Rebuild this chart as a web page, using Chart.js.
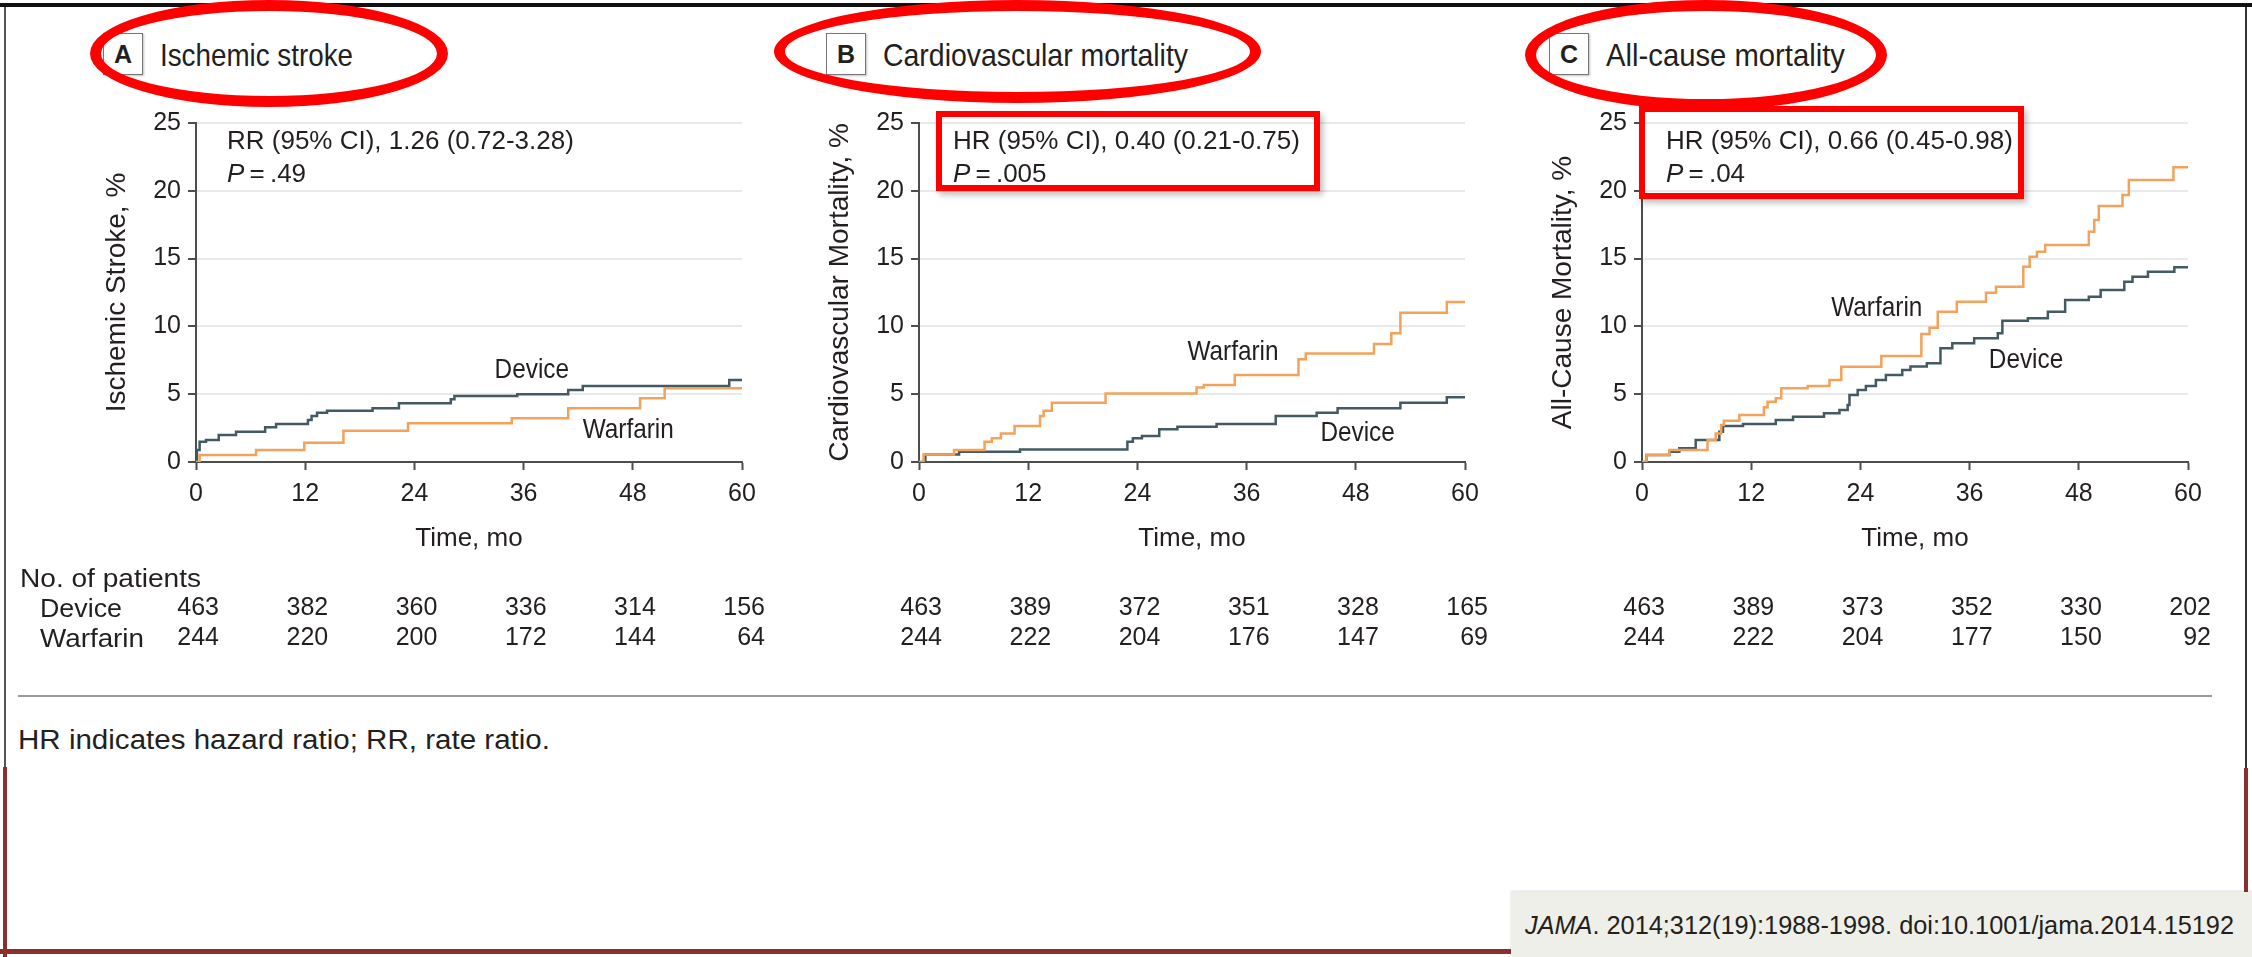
<!DOCTYPE html>
<html>
<head>
<meta charset="utf-8">
<script src="https://cdn.jsdelivr.net/npm/chart.js@4.4.1/dist/chart.umd.min.js"></script>
<style>
  body { margin: 0; background: #fff; }
  #page { position: relative; width: 2252px; height: 957px; overflow: hidden; background: #fff;
          font-family: 'Liberation Sans', Arial, sans-serif; color: #231f20; }
  .txt { position: absolute; white-space: nowrap; transform: translateY(-50%); transform-origin: left center; line-height: 1; }
  .letter { position: absolute; width: 40px; height: 42px; border: 1.5px solid #777; box-sizing: border-box;
            box-shadow: 1px 1px 2px rgba(0,0,0,0.25); text-align: center; line-height: 40px;
            font-weight: bold; font-size: 25px; }
  .ring { position: absolute; border: 11px solid #f00; border-radius: 50%; box-sizing: border-box; z-index: 5; }
  .redbox { position: absolute; border: 6px solid #f00; box-sizing: border-box; z-index: 5;
            box-shadow: 3px 4px 6px rgba(0,0,0,0.25); }
  .line { position: absolute; }
  canvas { position: absolute; }
</style>
</head>
<body>
<div id="page"></div>
<script>
// time axis (months)
const timeTicks = [0, 12, 24, 36, 48, 60];

// A - ischemic stroke, cumulative %
const strokeDeviceMonths = [0, 0.1, 0.4, 1.1, 2.5, 4.4, 7.6, 8.8, 12.3, 12.7, 13.3, 14.4, 19.4, 22.3, 28.0, 28.4, 35.3, 40.9, 42.5, 58.6, 60];
const strokeDevicePct    = [0, 0.88, 1.5, 1.62, 2.0, 2.24, 2.56, 2.8, 3.1, 3.39, 3.64, 3.78, 3.96, 4.33, 4.62, 4.87, 4.99, 5.31, 5.6, 6.05, 6.05];
const strokeWarfarinMonths = [0, 0.4, 6.6, 11.9, 16.2, 23.3, 34.7, 40.9, 48.8, 51.5, 60];
const strokeWarfarinPct    = [0, 0.52, 0.88, 1.42, 2.31, 2.85, 3.22, 3.96, 4.7, 5.43, 5.43];

// B - cardiovascular mortality
const cvDeviceMonths = [0, 0.7, 4.4, 11.1, 22.9, 23.5, 24.5, 26.4, 28.4, 32.7, 39.2, 43.7, 46.0, 52.9, 58.0, 60];
const cvDevicePct    = [0, 0.56, 0.76, 0.93, 1.5, 1.75, 1.91, 2.41, 2.6, 2.8, 3.39, 3.64, 3.96, 4.37, 4.77, 4.77];
const cvWarfarinMonths = [0, 0.5, 3.85, 7.2, 8.0, 9.0, 10.5, 13.3, 13.7, 14.6, 20.5, 30.5, 31.3, 34.7, 41.7, 42.5, 50.0, 51.9, 52.9, 58.0, 60];
const cvWarfarinPct    = [0, 0.56, 0.88, 1.5, 1.75, 2.1, 2.65, 3.39, 3.78, 4.37, 5.06, 5.5, 5.68, 6.42, 7.57, 8.0, 8.7, 9.49, 11.0, 11.8, 11.8];

// C - all-cause mortality
const allDeviceMonths = [0, 0.5, 3.0, 4.1, 5.9, 8.5, 8.9, 11.1, 14.7, 16.6, 20.0, 21.7, 22.6, 22.8, 23.7, 24.6, 25.7, 26.8, 28.6, 29.5, 31.3, 32.8, 34.1, 36.5, 39.1, 39.6, 42.4, 44.6, 46.5, 49.1, 50.4, 53.0, 53.9, 55.6, 58.5, 60];
const allDevicePct    = [0, 0.52, 0.76, 1.01, 1.62, 2.24, 2.65, 2.8, 3.1, 3.34, 3.59, 3.83, 4.2, 4.94, 5.31, 5.6, 6.05, 6.42, 6.78, 7.05, 7.28, 8.38, 8.75, 9.12, 9.49, 10.42, 10.6, 11.08, 11.95, 12.19, 12.68, 13.3, 13.67, 14.03, 14.36, 14.36];
const allWarfarinMonths = [0, 0.5, 3.0, 7.2, 8.1, 8.7, 9.0, 10.7, 13.4, 13.8, 14.7, 15.3, 18.2, 20.6, 21.9, 26.3, 30.7, 31.6, 32.5, 34.6, 37.8, 38.9, 41.9, 42.6, 43.4, 44.3, 49.1, 49.7, 50.2, 52.8, 53.5, 58.4, 60];
const allWarfarinPct    = [0, 0.52, 0.88, 1.62, 2.1, 2.73, 3.05, 3.47, 4.03, 4.45, 4.7, 5.43, 5.6, 6.05, 7.03, 7.82, 9.44, 9.9, 11.08, 11.82, 12.49, 12.93, 14.4, 15.14, 15.51, 16.0, 16.98, 17.85, 18.88, 19.69, 20.8, 21.73, 21.73];

// number of patients at risk
const strokeDeviceRisk = [463, 382, 360, 336, 314, 156];
const strokeWarfarinRisk = [244, 220, 200, 172, 144, 64];
const cvDeviceRisk = [463, 389, 372, 351, 328, 165];
const cvWarfarinRisk = [244, 222, 204, 176, 147, 69];
const allDeviceRisk = [463, 389, 373, 352, 330, 202];
const allWarfarinRisk = [244, 222, 204, 177, 150, 92];

const DEVICE_COLOR = '#435a63';
const WARFARIN_COLOR = '#f2a25a';
const INK = '#231f20';
const REGULAR = "'Liberation Sans', Arial, sans-serif";

const panels = [
    { letter: 'A', left: 196, title: 'Ischemic stroke', titleW: 193, yTitle: 'Ischemic Stroke, %',
      stat: 'RR (95% CI), 1.26 (0.72-3.28)', p: '.49', statX: 227,
      dev: [strokeDeviceMonths, strokeDevicePct], war: [strokeWarfarinMonths, strokeWarfarinPct],
      devRisk: strokeDeviceRisk, warRisk: strokeWarfarinRisk,
      labels: [{ text: 'Device', m: 36.9, v: 6.8 }, { text: 'Warfarin', m: 47.5, v: 2.36 }] },
    { letter: 'B', left: 919, title: 'Cardiovascular mortality', titleW: 305, yTitle: 'Cardiovascular Mortality, %',
      stat: 'HR (95% CI), 0.40 (0.21-0.75)', p: '.005', statX: 953,
      dev: [cvDeviceMonths, cvDevicePct], war: [cvWarfarinMonths, cvWarfarinPct],
      devRisk: cvDeviceRisk, warRisk: cvWarfarinRisk,
      labels: [{ text: 'Warfarin', m: 34.5, v: 8.1 }, { text: 'Device', m: 48.2, v: 2.1 }] },
    { letter: 'C', left: 1642, title: 'All-cause mortality', titleW: 239, yTitle: 'All-Cause Mortality, %',
      stat: 'HR (95% CI), 0.66 (0.45-0.98)', p: '.04', statX: 1666,
      dev: [allDeviceMonths, allDevicePct], war: [allWarfarinMonths, allWarfarinPct],
      devRisk: allDeviceRisk, warRisk: allWarfarinRisk,
      labels: [{ text: 'Warfarin', m: 25.8, v: 11.35 }, { text: 'Device', m: 42.2, v: 7.5 }] }
];

const page = document.getElementById('page');

function addDiv(cls, css, html) {
    const d = document.createElement('div');
    d.className = cls;
    Object.assign(d.style, css);
    if (html !== undefined) d.innerHTML = html;
    page.appendChild(d);
    return d;
}

function text(str, x, y, size, fitTo) {
    const d = addDiv('txt', { left: x + 'px', top: y + 'px', fontSize: size + 'px' }, str);
    if (fitTo) {
        // the source typeface is condensed: squeeze to the measured width
        const w = d.getBoundingClientRect().width;
        d.style.transform = 'translateY(-50%) scaleX(' + (fitTo / w) + ')';
    }
    return d;
}

// curve labels + numbers at risk, drawn on the chart canvas
const annotate = {
    id: 'annotate',
    afterDraw(chart, args, opts) {
        const { ctx, scales: { x, y } } = chart;
        ctx.save();
        ctx.fillStyle = INK;
        ctx.textBaseline = 'middle';
        ctx.textAlign = 'center';
        ctx.font = '28px ' + REGULAR;
        opts.labels.forEach(l => {
            ctx.save();
            ctx.translate(x.getPixelForValue(l.m), y.getPixelForValue(l.v));
            ctx.scale(0.87, 1);
            ctx.fillText(l.text, 0, 0);
            ctx.restore();
        });
        ctx.textAlign = 'right';
        ctx.font = '25px ' + REGULAR;
        opts.rows.forEach(row => {
            row.values.forEach((n, i) => ctx.fillText(String(n), x.getPixelForValue(timeTicks[i]) + 23, row.y));
        });
        ctx.restore();
    }
};

const CANVAS_TOP = 100;

panels.forEach(p => {
    const canvas = document.createElement('canvas');
    canvas.width = 706;
    canvas.height = 560;
    canvas.style.left = (p.left - 130) + 'px';
    canvas.style.top = CANVAS_TOP + 'px';
    page.appendChild(canvas);

    const toPoints = ([ms, vs]) => ms.map((m, i) => ({ x: m, y: vs[i] }));

    new Chart(canvas.getContext('2d'), {
        type: 'line',
        data: {
            datasets: [{
                label: 'Warfarin',
                data: toPoints(p.war),
                borderColor: WARFARIN_COLOR,
                borderWidth: 2.5,
                stepped: true,
                pointRadius: 0,
                fill: false
            }, {
                label: 'Device',
                data: toPoints(p.dev),
                borderColor: DEVICE_COLOR,
                borderWidth: 2.5,
                stepped: true,
                pointRadius: 0,
                fill: false
            }]
        },
        options: {
            responsive: false,
            animation: false,
            layout: { padding: { top: 23, right: 30, bottom: 106, left: 0 } },
            plugins: {
                legend: { display: false },
                tooltip: { enabled: false },
                annotate: {
                    labels: p.labels,
                    rows: [{ y: 508, values: p.devRisk }, { y: 538, values: p.warRisk }]
                }
            },
            scales: {
                x: {
                    type: 'linear',
                    min: 0,
                    max: 60,
                    afterBuildTicks: s => { s.ticks = timeTicks.map(v => ({ value: v })); },
                    afterFit: s => { s.height = 92; },
                    ticks: { font: { family: REGULAR, size: 25 }, color: INK, padding: 9, maxRotation: 0, autoSkip: false },
                    grid: { drawOnChartArea: false, drawTicks: true, tickLength: 8, tickColor: '#4d4d4d', tickWidth: 2 },
                    border: { color: '#4d4d4d', width: 2 },
                    title: { display: true, text: 'Time, mo', color: INK, font: { family: REGULAR, size: 26 }, padding: { top: 0, bottom: 0 } }
                },
                y: {
                    min: 0,
                    max: 25,
                    afterFit: s => { s.width = 130; },
                    ticks: { stepSize: 5, font: { family: REGULAR, size: 25 }, color: INK, padding: 7 },
                    grid: {
                        color: c => (c.tick && c.tick.value === 0) ? 'rgba(0,0,0,0)' : '#e9e9e9',
                        lineWidth: 2, tickLength: 8, tickColor: '#4d4d4d', tickWidth: 2
                    },
                    border: { color: '#4d4d4d', width: 2 },
                    title: { display: true, text: p.yTitle, color: INK, font: { family: REGULAR, size: 28 }, padding: { top: 34, bottom: 0 } }
                }
            }
        },
        plugins: [annotate]
    });

    // panel heading
    addDiv('letter', { left: (p.left - 93) + 'px', top: '33px' }, p.letter);
    text(p.title, p.left - 36, 55, 32, p.titleW);

    // statistics
    text(p.stat, p.statX, 140, 26);
    text('<i>P</i>&thinsp;=&thinsp;' + p.p, p.statX, 173, 26);
});

// highlight marks
addDiv('ring', { left: '90px', top: '0px', width: '358px', height: '107px' });
addDiv('ring', { left: '774px', top: '0px', width: '487px', height: '103px' });
addDiv('ring', { left: '1525px', top: '0px', width: '362px', height: '110px' });
addDiv('redbox', { left: '936px', top: '111px', width: '384px', height: '80px' });
addDiv('redbox', { left: '1639px', top: '106px', width: '385px', height: '93px' });

// patients table labels
text('No. of patients', 20, 578, 26, 181);
text('Device', 40, 608, 26, 82);
text('Warfarin', 40, 638, 26, 104);

// separator and footnote
addDiv('line', { left: '18px', top: '695px', width: '2194px', height: '2px', background: '#9a9a9a' });
text('HR indicates hazard ratio; RR, rate ratio.', 18, 740, 27, 532);

// frame
addDiv('line', { left: '0px', top: '3px', width: '2252px', height: '4px', background: '#111', zIndex: 4 });
addDiv('line', { left: '4px', top: '5px', width: '2px', height: '762px', background: '#555' });
addDiv('line', { left: '3px', top: '767px', width: '4px', height: '190px', background: '#8a3030' });
addDiv('line', { left: '2245px', top: '5px', width: '2px', height: '763px', background: '#333' });
addDiv('line', { left: '2244px', top: '768px', width: '4px', height: '124px', background: '#8a3030' });
addDiv('line', { left: '0px', top: '949px', width: '1512px', height: '5px', background: '#8a3030' });
addDiv('line', { left: '1511px', top: '892px', width: '741px', height: '65px', background: '#efefe9',
                 boxShadow: '0 -1px 2px rgba(0,0,0,0.15)' });
text('<i>JAMA</i>. 2014;312(19):1988-1998. doi:10.1001/jama.2014.15192', 1525, 925, 26, 709);
</script>
</body>
</html>
